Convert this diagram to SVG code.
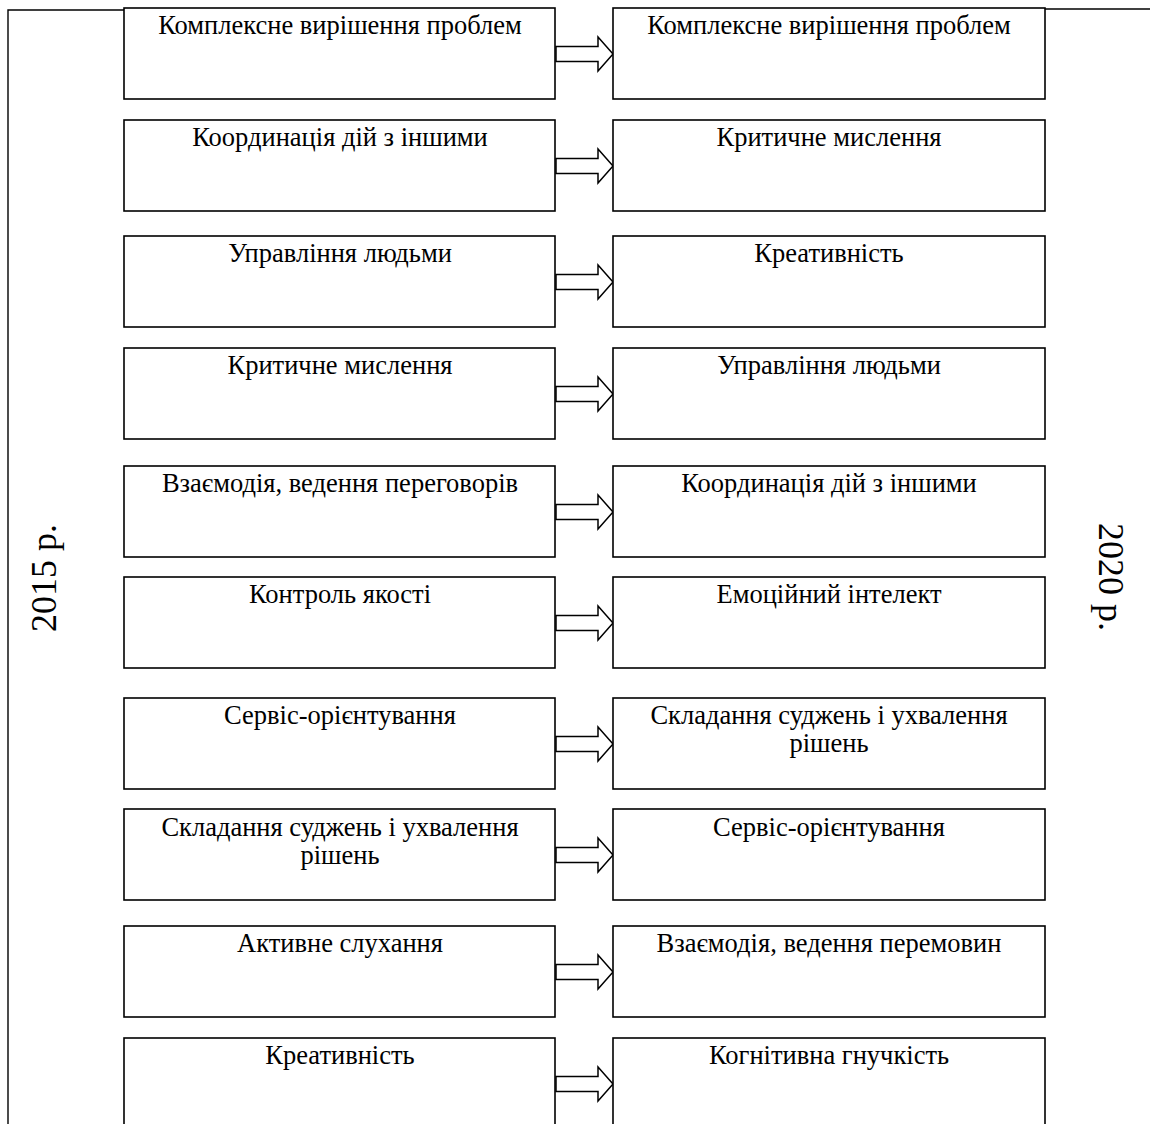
<svg xmlns="http://www.w3.org/2000/svg" width="1150" height="1124" viewBox="0 0 1150 1124">
<style>
  .box { fill: #fff; stroke: #000; stroke-width: 1.6; }
  .frame { fill: none; stroke: #000; stroke-width: 1.4; }
  .arr { fill: #fff; stroke: #000; stroke-width: 1.5; stroke-linejoin: miter; }
  text { font-family: "Liberation Serif", "Times New Roman", serif; fill: #000; }
  .lbl { font-size: 26.5px; text-anchor: middle; }
  .year { font-size: 36px; text-anchor: middle; }
</style>
<defs>
  <path id="arrow" class="arr" d="M556,-7.5 H598 V-17 L613,0 L598,17 V7.5 H556 Z"/>
</defs>
<rect width="1150" height="1124" fill="#fff"/>
<g id="frame">
  <path class="frame" d="M124,10 H8 V1124"/>
  <path class="frame" d="M1045,9 H1150"/>
  <text class="year" transform="translate(56,578) rotate(-90)">2015 р.</text>
  <text class="year" transform="translate(1099,577) rotate(90)">2020 р.</text>
</g>
<g id="connectors">
  <use href="#arrow" transform="translate(0,54)"/>
  <use href="#arrow" transform="translate(0,166)"/>
  <use href="#arrow" transform="translate(0,282)"/>
  <use href="#arrow" transform="translate(0,394)"/>
  <use href="#arrow" transform="translate(0,512)"/>
  <use href="#arrow" transform="translate(0,623)"/>
  <use href="#arrow" transform="translate(0,744)"/>
  <use href="#arrow" transform="translate(0,855)"/>
  <use href="#arrow" transform="translate(0,972)"/>
  <use href="#arrow" transform="translate(0,1084)"/>
</g>
<g id="l1"><rect class="box" x="124" y="8" width="431" height="91"/><text class="lbl" x="340" y="34">Комплексне вирішення проблем</text></g>
<g id="r1"><rect class="box" x="613" y="8" width="432" height="91"/><text class="lbl" x="829" y="34">Комплексне вирішення проблем</text></g>
<g id="l2"><rect class="box" x="124" y="120" width="431" height="91"/><text class="lbl" x="340" y="146">Координація дій з іншими</text></g>
<g id="r2"><rect class="box" x="613" y="120" width="432" height="91"/><text class="lbl" x="829" y="146">Критичне мислення</text></g>
<g id="l3"><rect class="box" x="124" y="236" width="431" height="91"/><text class="lbl" x="340" y="262">Управління людьми</text></g>
<g id="r3"><rect class="box" x="613" y="236" width="432" height="91"/><text class="lbl" x="829" y="262">Креативність</text></g>
<g id="l4"><rect class="box" x="124" y="348" width="431" height="91"/><text class="lbl" x="340" y="374">Критичне мислення</text></g>
<g id="r4"><rect class="box" x="613" y="348" width="432" height="91"/><text class="lbl" x="829" y="374">Управління людьми</text></g>
<g id="l5"><rect class="box" x="124" y="466" width="431" height="91"/><text class="lbl" x="340" y="492">Взаємодія, ведення переговорів</text></g>
<g id="r5"><rect class="box" x="613" y="466" width="432" height="91"/><text class="lbl" x="829" y="492">Координація дій з іншими</text></g>
<g id="l6"><rect class="box" x="124" y="577" width="431" height="91"/><text class="lbl" x="340" y="603">Контроль якості</text></g>
<g id="r6"><rect class="box" x="613" y="577" width="432" height="91"/><text class="lbl" x="829" y="603">Емоційний інтелект</text></g>
<g id="l7"><rect class="box" x="124" y="698" width="431" height="91"/><text class="lbl" x="340" y="724">Сервіс-орієнтування</text></g>
<g id="r7"><rect class="box" x="613" y="698" width="432" height="91"/><text class="lbl" x="829" y="724">Складання суджень і ухвалення</text><text class="lbl" x="829" y="751.5">рішень</text></g>
<g id="l8"><rect class="box" x="124" y="809" width="431" height="91"/><text class="lbl" x="340" y="836">Складання суджень і ухвалення</text><text class="lbl" x="340" y="863.5">рішень</text></g>
<g id="r8"><rect class="box" x="613" y="809" width="432" height="91"/><text class="lbl" x="829" y="836">Сервіс-орієнтування</text></g>
<g id="l9"><rect class="box" x="124" y="926" width="431" height="91"/><text class="lbl" x="340" y="952">Активне слухання</text></g>
<g id="r9"><rect class="box" x="613" y="926" width="432" height="91"/><text class="lbl" x="829" y="952">Взаємодія, ведення перемовин</text></g>
<g id="l10"><rect class="box" x="124" y="1038" width="431" height="91"/><text class="lbl" x="340" y="1064">Креативність</text></g>
<g id="r10"><rect class="box" x="613" y="1038" width="432" height="91"/><text class="lbl" x="829" y="1064">Когнітивна гнучкість</text></g>
</svg>
